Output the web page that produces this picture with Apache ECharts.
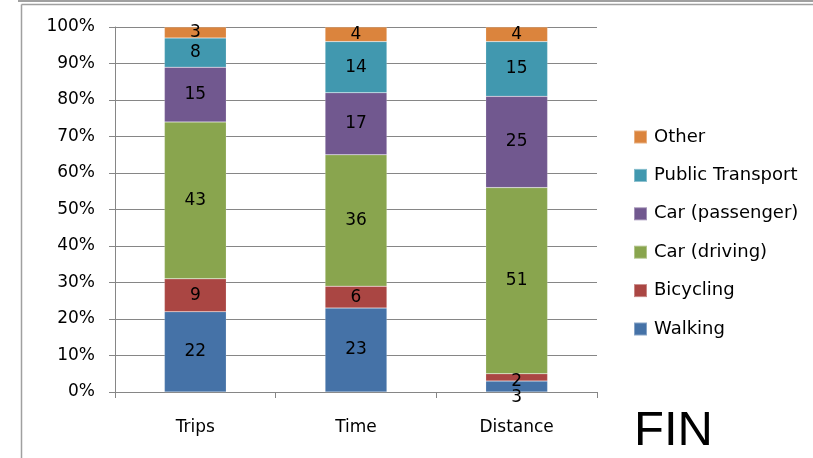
<!DOCTYPE html>
<html><head><meta charset="utf-8">
<script src="https://cdn.jsdelivr.net/npm/echarts@6/dist/echarts.min.js"></script>
<style>html,body{margin:0;padding:0;background:#fff}#c{width:813px;height:458px}</style>
</head><body><div id="c"></div>
<script>
var categories = ['Trips', 'Time', 'Distance'];
var walking = [22, 23, 3];
var bicycling = [9, 6, 2];
var carDriving = [43, 36, 51];
var carPassenger = [15, 17, 25];
var publicTransport = [8, 14, 15];
var other = [3, 4, 4];
var seriesNames = ['Walking', 'Bicycling', 'Car (driving)', 'Car (passenger)', 'Public Transport', 'Other'];
var seriesValues = [walking, bicycling, carDriving, carPassenger, publicTransport, other];
var colors = ['#4572A7', '#AA4643', '#89A54E', '#71588F', '#4198AF', '#DB843D'];
var FONT = 'DejaVu Sans';
var FS = 17;

var labelOffsets = { 'Walking|2': [0, 11], 'Bicycling|2': [0, 4] };

var series = seriesNames.map(function (name, si) {
  return {
    name: name, type: 'bar', stack: 'total', barWidth: '38.5%',
    itemStyle: { color: colors[si], borderColor: 'rgba(255,255,255,0.35)', borderWidth: 0.5 },
    label: { show: true, position: 'inside', color: '#000', fontFamily: FONT, fontSize: FS },
    data: seriesValues[si].map(function (v, ci) {
      var o = labelOffsets[name + '|' + ci];
      return o ? { value: v, label: { offset: o } } : v;
    })
  };
});

var chart = echarts.init(document.getElementById('c'));
chart.setOption({
  animation: false,
  color: colors,
  grid: { left: 115, right: 216, top: 27, bottom: 66 },
  legend: {
    orient: 'vertical', left: 633, top: 128, padding: 0,
    itemWidth: 13, itemHeight: 13, itemGap: 20.4,
    icon: 'rect',
    data: seriesNames.slice().reverse(),
    textStyle: { fontFamily: FONT, fontSize: 18, color: '#000', lineHeight: 15, padding: [0, 0, 0, 2] }
  },
  xAxis: {
    type: 'category', data: categories,
    axisLine: { lineStyle: { color: '#868686' } },
    axisTick: { show: true, length: 6, lineStyle: { color: '#868686' } },
    axisLabel: { margin: 27, fontFamily: FONT, fontSize: FS, color: '#000' }
  },
  yAxis: {
    type: 'value', min: 0, max: 100, interval: 10,
    axisLine: { show: true, lineStyle: { color: '#868686' } },
    axisTick: { show: true, length: 6, lineStyle: { color: '#868686' } },
    splitLine: { lineStyle: { color: '#868686' } },
    axisLabel: { margin: 20, fontFamily: FONT, fontSize: FS, color: '#000', formatter: '{value}%' }
  },
  graphic: [
    { type: 'line', shape: { x1: 18, y1: 1, x2: 813, y2: 1 }, style: { stroke: '#a0a0a0', lineWidth: 2 } },
    { type: 'line', shape: { x1: 21.5, y1: 4.5, x2: 813, y2: 4.5 }, style: { stroke: '#a0a0a0', lineWidth: 1.5 } },
    { type: 'line', shape: { x1: 21.5, y1: 4.5, x2: 21.5, y2: 458 }, style: { stroke: '#a0a0a0', lineWidth: 1.5 } },
    { type: 'text', left: 634, top: 407, style: { text: 'FIN', fontFamily: 'Liberation Sans', fontSize: 49, fill: '#000' } }
  ],
  series: series
});
</script>
</body></html>
